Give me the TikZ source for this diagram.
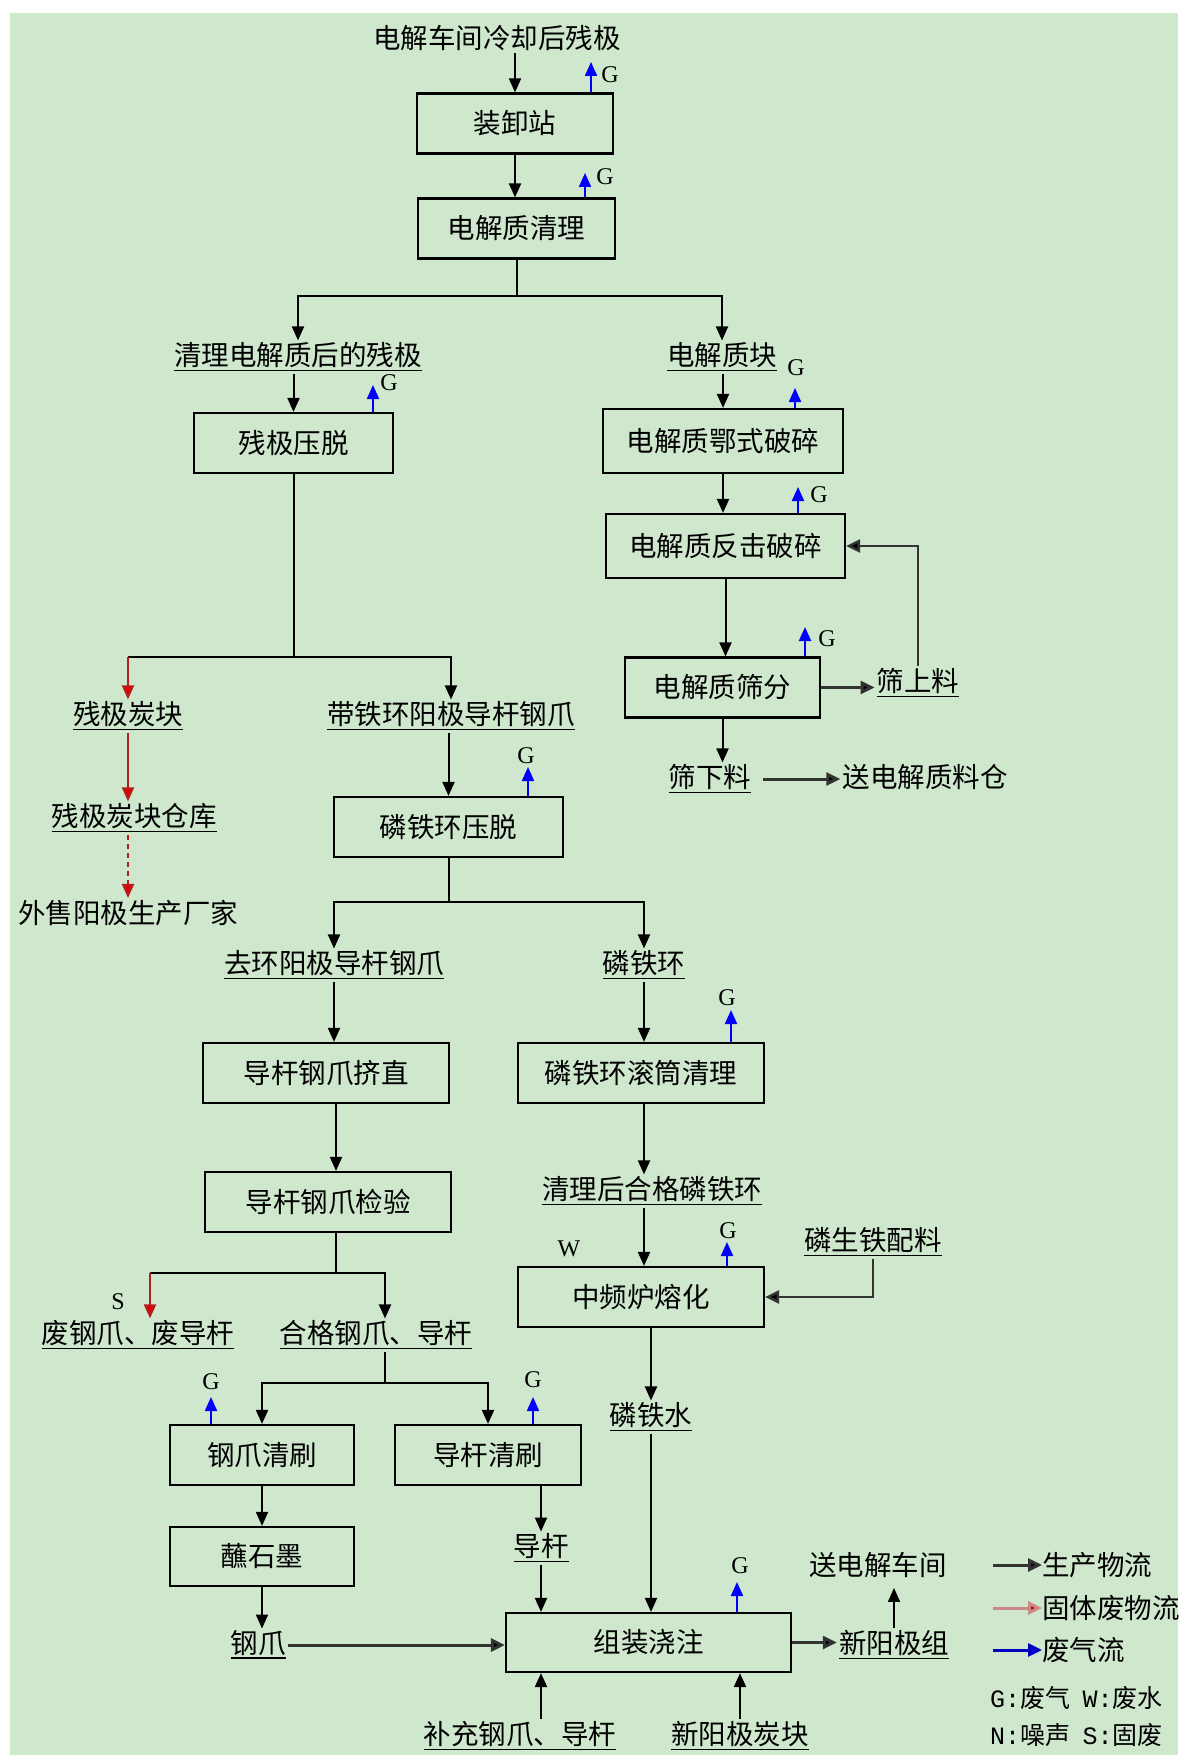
\documentclass[tikz,border=0pt]{standalone}
\usepackage{fontspec}
\setmainfont{Noto Sans CJK SC}
\setmonofont{Liberation Mono}
\newfontfamily\gfont{Liberation Serif}
\usetikzlibrary{arrows.meta,positioning}
\definecolor{bggreen}{RGB}{207,231,205}
\definecolor{wastered}{RGB}{180,30,30}
\definecolor{legred}{RGB}{205,135,135}
\newcommand{\ulbl}[1]{\vtop{\hbox{#1}\kern1.5pt\hrule height1.8pt}}

\begin{document}
\begin{tikzpicture}[x=1pt,y=-1pt,>={Triangle[width=12pt,length=14pt]},
  procbox/.style={draw,line width=2.2pt,minimum height=60pt,inner sep=0pt,font=\fontsize{27.5}{30}\selectfont},
  lbl/.style={inner sep=2pt,font=\fontsize{27.5}{30}\selectfont},
  link/.style={line width=2pt},
  flow/.style={->,line width=2pt},
  thickflow/.style={line width=3pt,draw=black!80,-{Triangle[width=13pt,length=14pt,fill=black]}},
  waste/.style={line width=2pt,draw=wastered,-{Triangle[width=12pt,length=14pt,fill=red!90!black]}},
  wastedash/.style={waste,dash pattern=on 5pt off 4pt},
  gasflow/.style={->,line width=2pt,blue},
  gtag/.style={inner sep=0pt,font=\gfont\fontsize{24}{25}\selectfont}]
\useasboundingbox (0,0) rectangle (1178,1755);
\fill[white] (0,0) rectangle (1178,1755);
\fill[bggreen] (10,13) rectangle (1178,1755);

% process boxes
\node[procbox,minimum width=196pt] (zx) at (515,123.5) {装卸站};
\node[procbox,minimum width=197pt] (djqc) at (516.5,228.5) {电解质清理};
\node[procbox,minimum width=199pt] (cjyt) at (293.5,443) {残极压脱};
\node[procbox,minimum width=240pt,minimum height=64pt] (esps) at (723,441) {电解质鄂式破碎};
\node[procbox,minimum width=239pt,minimum height=64pt] (fjps) at (725.5,546) {电解质反击破碎};
\node[procbox,minimum width=195pt] (sf) at (722.5,687.5) {电解质筛分};
\node[procbox,minimum width=229pt] (lthyt) at (448.5,827) {磷铁环压脱};
\node[procbox,minimum width=246pt] (zz) at (326,1073) {导杆钢爪挤直};
\node[procbox,minimum width=246pt] (gt) at (641,1073) {磷铁环滚筒清理};
\node[procbox,minimum width=246pt] (jy) at (328,1202) {导杆钢爪检验};
\node[procbox,minimum width=246pt] (zp) at (641,1297) {中频炉熔化};
\node[procbox,minimum width=184pt] (gzqs) at (262,1455) {钢爪清刷};
\node[procbox,minimum width=186pt] (dgqs) at (488,1455) {导杆清刷};
\node[procbox,minimum width=184pt,minimum height=59pt] (zsm) at (262,1556.5) {蘸石墨};
\node[procbox,minimum width=285pt,minimum height=59pt] (zj) at (648.5,1642.5) {组装浇注};

% materials
\node[lbl] (t_src) at (497,38) {电解车间冷却后残极};
\node[lbl] (l_cjh) at (298,357) {\ulbl{清理电解质后的残极}};
\node[lbl] (l_djk) at (722,357) {\ulbl{电解质块}};
\node[lbl] (l_cjtk) at (128,716) {\ulbl{残极炭块}};
\node[lbl] (l_dthgz) at (451,716) {\ulbl{带铁环阳极导杆钢爪}};
\node[lbl] (l_ckcs) at (134,818) {\ulbl{残极炭块仓库}};
\node[lbl] (t_ws) at (128,913) {外售阳极生产厂家};
\node[lbl] (l_ssl) at (918,683) {\ulbl{筛上料}};
\node[lbl] (l_sxl) at (710,779) {\ulbl{筛下料}};
\node[lbl] (t_sdjzlc) at (925,777) {送电解质料仓};
\node[lbl] (l_qh) at (334,965) {\ulbl{去环阳极导杆钢爪}};
\node[lbl] (l_lth) at (644,965) {\ulbl{磷铁环}};
\node[lbl] (l_qlhg) at (652,1191) {\ulbl{清理后合格磷铁环}};
\node[lbl] (l_lstpl) at (873,1242) {\ulbl{磷生铁配料}};
\node[lbl] (l_fgz) at (138,1335) {\ulbl{废钢爪、废导杆}};
\node[lbl] (l_hg) at (376,1335) {\ulbl{合格钢爪、导杆}};
\node[lbl] (l_ltsh) at (651,1417) {\ulbl{磷铁水}};
\node[lbl] (l_dg) at (541,1548) {\ulbl{导杆}};
\node[lbl] (l_gz) at (258,1645) {\ulbl{钢爪}};
\node[lbl] (l_xyjz) at (894,1645) {\ulbl{新阳极组}};
\node[lbl] (t_sdjcj) at (878,1565) {送电解车间};
\node[lbl] (l_bc) at (520,1736) {\ulbl{补充钢爪、导杆}};
\node[lbl] (l_xyjtk) at (740,1736) {\ulbl{新阳极炭块}};
\node[gtag] (w_tag) at (569,1249) {W};
\node[gtag] (s_tag) at (118,1302) {S};

% junctions
\coordinate (sp1) at (516.5,296);
\coordinate (sp2) at (293.5,657);
\coordinate (sp3) at (448.5,902);
\coordinate (sp4) at (336,1273);
\coordinate (sp4s) at (150,1273);
\coordinate (sp5) at (385,1383);

% main flow
\draw[flow] (t_src.south -| zx) -- (zx.north);
\draw[flow] (zx.south) -- (zx.south |- djqc.north);
\draw[link] (djqc.south) -- (sp1);
\draw[flow] (sp1) -| (l_cjh.north);
\draw[flow] (sp1) -| (l_djk.north);
\draw[flow] (l_cjh.south -| cjyt) -- (cjyt.north);
\draw[flow] (l_djk.south -| esps) -- (esps.north);
\draw[link] (cjyt.south) -- (sp2);
\draw[link] (sp2) -- (sp2 -| l_cjtk);
\draw[waste] (sp2 -| l_cjtk) -- (l_cjtk.north);
\draw[flow] (sp2) -| (l_dthgz.north);
\draw[waste] (l_cjtk.south) -- (l_cjtk.south |- l_ckcs.north);
\draw[wastedash] (l_ckcs.south -| l_cjtk) -- (l_cjtk |- t_ws.north);
\draw[flow] (l_dthgz.south -| lthyt) -- (lthyt.north);
\draw[flow] (esps.south) -- (esps.south |- fjps.north);
\draw[flow] (fjps.south) -- (fjps.south |- sf.north);
\draw[thickflow] (sf.east) -- (sf.east -| l_ssl.west);
\draw[line width=2.5pt,draw=black!80,-{Triangle[width=13pt,length=14pt,fill=black]}] (l_ssl.north) |- (fjps.east);
\draw[flow] (sf.south) -- (sf.south |- l_sxl.north);
\draw[thickflow,shorten <=10pt] (l_sxl.east) -- (l_sxl.east -| t_sdjzlc.west);
\draw[link] (lthyt.south) -- (sp3);
\draw[flow] (sp3) -| (l_qh.north);
\draw[flow] (sp3) -| (l_lth.north);
\draw[flow] (l_qh.south) -- (l_qh.south |- zz.north);
\draw[flow] (l_lth.south) -- (l_lth.south |- gt.north);
\draw[flow] (zz.south -| sp4) -- (sp4 |- jy.north);
\draw[flow] (gt.south -| l_lth) -- (l_lth |- l_qlhg.north);
\draw[flow] (l_qlhg.south -| l_lth) -- (l_lth |- zp.north);
\draw[line width=2.5pt,draw=black!80,-{Triangle[width=13pt,length=14pt,fill=black]}] (l_lstpl.south) |- (zp.east);
\draw[link] (jy.south -| sp4) -- (sp4);
\draw[link] (sp4) -- (sp4s);
\draw[waste] (sp4s) -- (sp4s |- l_fgz.north);
\draw[flow] (sp4) -| (l_hg.north -| sp5);
\draw[link] (l_hg.south -| sp5) -- (sp5);
\draw[flow] (sp5) -| (gzqs.north);
\draw[flow] (sp5) -| (dgqs.north);
\draw[flow] (gzqs.south) -- (zsm.north);
\draw[flow] (zsm.south) -- (zsm.south |- l_gz.north);
\draw[flow] (l_dg.north |- dgqs.south) -- (l_dg.north);
\draw[flow] (l_dg.south) -- (l_dg.south |- zj.north);
\draw[flow] (zp.south -| l_ltsh) -- (l_ltsh.north);
\draw[flow] (l_ltsh.south) -- (l_ltsh.south |- zj.north);
\draw[thickflow] (l_gz.east) -- (l_gz.east -| zj.west);
\draw[thickflow] (zj.east) -- (zj.east -| l_xyjz.west);
\draw[flow,shorten >=8pt] (l_xyjz.north) -- (l_xyjz.north |- t_sdjcj.south);
\draw[flow] (l_bc.north -| l_dg) -- (l_dg |- zj.south);
\draw[flow] (l_xyjtk.north) -- (l_xyjtk.north |- zj.south);

% waste gas
\foreach \bx/\ax/\ty/\gx/\gy [count=\i] in {zx/591/62/610/75, djqc/585/173/605/177,
    cjyt/373/385/389/383, esps/795/388/796/368, fjps/798/487/819/495, sf/805/627/827/639,
    lthyt/528/767/526/756, gt/731/1010/727/998, zp/727/1242/728/1231,
    gzqs/211/1397/211/1382, dgqs/533/1397/533/1380, zj/737/1582/740/1566}{
  \coordinate (gtip\i) at (\ax,\ty);
  \node[gtag] (g\i) at (\gx,\gy) {G};
  \draw[gasflow] (\bx.north -| gtip\i) -- (gtip\i);
}

% legend
\coordinate (la_prod) at (993,1565);
\coordinate (la_solid) at (993,1608);
\coordinate (la_gas) at (993,1650);
\node[lbl,anchor=west,inner sep=0pt] (leg_prod) at (1042,1565) {生产物流};
\node[lbl,anchor=west,inner sep=0pt] (leg_solid) at (1042,1608) {固体废物流};
\node[lbl,anchor=west,inner sep=0pt] (leg_gas) at (1042,1650) {废气流};
\draw[thickflow] (la_prod) -- (leg_prod.west);
\draw[line width=3pt,draw=legred,-{Triangle[width=13pt,length=14pt,fill=red!75!black]}] (la_solid) -- (leg_solid.west);
\draw[line width=3pt,draw=blue!75!black,-{Triangle[width=13pt,length=14pt,fill=blue]}] (la_gas) -- (leg_gas.west);
\node[anchor=west,inner sep=0pt,font=\fontsize{25}{26}\selectfont] (leg_gw) at (990,1698) {{\ttfamily G:}废气\hspace{0.5em}{\ttfamily W:}废水};
\node[anchor=west,inner sep=0pt,font=\fontsize{25}{26}\selectfont] (leg_ns) at (990,1735) {{\ttfamily N:}噪声\hspace{0.5em}{\ttfamily S:}固废};
\end{tikzpicture}
\end{document}
